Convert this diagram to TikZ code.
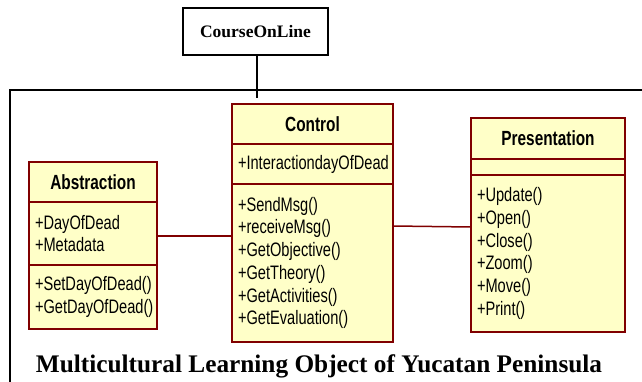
\documentclass[tikz,border=0pt]{standalone}
\usepackage{fontspec}
\setmainfont{Liberation Serif}
\newfontfamily\umlfont{Liberation Sans}[FakeStretch=0.75]
\usetikzlibrary{positioning}
\definecolor{umlred}{RGB}{128,0,0}
\definecolor{umlyellow}{RGB}{255,255,200}
\tikzset{
    clshead/.style = {rectangle, draw=umlred, line width=1.5pt, fill=umlyellow, outer sep=0pt, inner xsep=6pt, inner ysep=2pt, align=center, font=\umlfont\bfseries\fontsize{20.5}{22.7}\selectfont},
    clsbody/.style = {rectangle, draw=umlred, line width=1.5pt, fill=umlyellow, outer sep=0pt, inner xsep=6pt, inner ysep=2pt, align=left, font=\umlfont\fontsize{19.5}{22.7}\selectfont},
    titlebox/.style = {rectangle, draw=black, line width=1.5pt, outer sep=0pt, minimum width=145pt, minimum height=47pt, font=\bfseries\fontsize{17.5}{20}\selectfont},
    edgen/.style = {line width=1.5pt, black},
    edger/.style = {line width=1.5pt, umlred},
}
\begin{document}
\begin{tikzpicture}[x=1pt,y=1pt]
\useasboundingbox (0,0) rectangle (642,381);
\clip (0,0) rectangle (642,381);
%
\node[titlebox] at (255.5,349.5) (course) {CourseOnLine};
\draw[edgen] (10,-10) -- (10,291) -- (660,291);
\coordinate (drop) at (257,283);
\draw[edgen] (drop |- course.south) -- (drop);
%
\node[clshead, text width=116pt, minimum height=40pt, anchor=north] at (93,219) (abshead) {Abstraction};
\node[clsbody, text width=116pt, minimum height=63pt, below=0pt of abshead] (absattr) {+DayOfDead\\+Metadata};
\node[clsbody, text width=116pt, minimum height=64pt, below=0pt of absattr] (absops) {+SetDayOfDead()\\+GetDayOfDead()};
%
\node[clshead, text width=149pt, minimum height=40pt, anchor=north] at (312.5,277) (ctrlhead) {Control};
\node[clsbody, text width=149pt, minimum height=40pt, below=0pt of ctrlhead] (ctrlattr) {+InteractiondayOfDead};
\node[clsbody, text width=149pt, minimum height=158pt, below=0pt of ctrlattr] (ctrlops) {+SendMsg()\\+receiveMsg()\\+GetObjective()\\+GetTheory()\\+GetActivities()\\+GetEvaluation()};
%
\node[clshead, text width=142pt, minimum height=41pt, anchor=north] at (548,263) (preshead) {Presentation};
\node[clsbody, text width=142pt, minimum height=16pt, below=0pt of preshead] (presattr) {};
\node[clsbody, text width=142pt, minimum height=157pt, below=0pt of presattr] (presops) {+Update()\\+Open()\\+Close()\\+Zoom()\\+Move()\\+Print()};
%
\draw[edger] ([yshift=-2.5pt]absattr.east) -- ([yshift=-2.5pt]absattr.east -| ctrlops.west);
\draw[edger] ([yshift=37pt]ctrlops.east) -- ([yshift=26.5pt]presops.west);
%
\node[font=\bfseries\fontsize{25.3}{28}\selectfont, anchor=base] at (319,9) (mlotitle) {Multicultural Learning Object of Yucatan Peninsula};
\end{tikzpicture}
\end{document}
